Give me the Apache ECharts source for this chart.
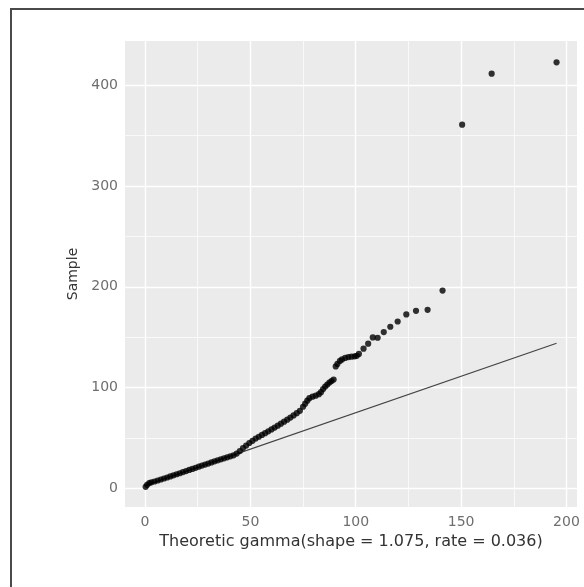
<!DOCTYPE html>
<html>
<head>
<meta charset="utf-8">
<script src="https://cdn.jsdelivr.net/npm/echarts@6/dist/echarts.min.js"></script>
<style>
  html, body { margin: 0; padding: 0; background: #fff; }
  #chart { width: 584px; height: 587px; }
</style>
</head>
<body>
<div id="chart"></div>
<script>
// sample vs theoretic gamma quantiles
const qqX = [0.3, 1, 2, 3, 4.5, 6, 7.5, 9, 10.5, 12, 13.5, 15, 16.5, 18, 19.5, 21, 22.5, 24, 25.5, 27,
  28.5, 30, 31.5, 33, 34.5, 36, 37.5, 39, 40.5, 42, 43.5, 45, 46.5, 48, 49.5, 51, 52.5, 54, 55.5, 57,
  58.5, 60, 61.5, 63, 64.5, 66, 67.5, 69, 70.5, 72, 73.5, 75, 76, 77, 78, 79.5, 81, 82.5, 83.5, 84.5,
  85.5, 86.5, 87.5, 88.5, 89.5,
  90.5, 91.3, 92.5, 93.5, 95, 96.5, 98, 99.5, 100.5, 101.5, 103.7, 105.9, 108.1, 110.4, 113.3, 116.4,
  119.9, 124, 128.6, 134.1, 141.2, 150.5, 164.5, 195.3]
const qqY = [1.5, 3.5, 5.2, 6, 6.8, 7.8, 8.8, 9.8, 10.8, 11.8, 12.9, 14, 15, 16.2, 17.2, 18.3, 19.3, 20.4, 21.5, 22.6,
  23.6, 24.6, 25.7, 26.8, 27.8, 28.8, 29.8, 30.8, 31.8, 32.8, 34.5, 37, 40, 42.5, 45, 47.2, 49.5, 51.2, 53, 54.8,
  56.6, 58.5, 60.3, 62.2, 64.2, 66.2, 68.2, 70.3, 72.4, 74.6, 77, 81, 84, 87, 89.5, 91, 92, 93.5, 95.5, 98.5,
  101, 103, 105, 106.5, 108,
  121, 123.5, 126.5, 128, 129.5, 130.3, 130.7, 131, 131.5, 133.4, 138.6, 143.6, 149.8, 149.5, 155.1, 160.4,
  165.6, 172.6, 176.2, 177.2, 196.3, 361, 411.6, 422.8]

// reference line end points
const lineX = [0.3, 195.3]
const lineY = [3, 144]

const xTicks = [0, 50, 100, 150, 200]
const yTicks = [0, 100, 200, 300, 400]
const xMinor = [25, 75, 125, 175]
const yMinor = [50, 150, 250, 350]

const chart = echarts.init(document.getElementById('chart'), null, { renderer: 'canvas' })

const tickText = { color: '#6e6e6e', fontSize: 14, fontFamily: 'DejaVu Sans' }
const gridLine = (key, v, w) => ({ [key]: v, lineStyle: { color: '#ffffff', width: w, type: 'solid' } })

chart.setOption({
  animation: false,
  backgroundColor: '#ffffff',
  graphic: [{
    type: 'rect',
    shape: { x: 11, y: 9, width: 640, height: 640 },
    style: { fill: 'none', stroke: '#4a4a4a', lineWidth: 2 },
    silent: true,
  }],
  grid: {
    left: 125, right: 7, top: 41, bottom: 80,
    show: true, backgroundColor: '#ebebeb', borderWidth: 0,
  },
  xAxis: {
    type: 'value',
    min: -9.5, max: 205,
    name: 'Theoretic gamma(shape = 1.075, rate = 0.036)',
    nameLocation: 'middle',
    nameGap: 22,
    nameTextStyle: { color: '#333333', fontSize: 16, fontFamily: 'DejaVu Sans' },
    axisLine: { show: false },
    axisTick: { show: true, customValues: xTicks, length: 4, lineStyle: { color: '#8a8a8a' } },
    axisLabel: { ...tickText, customValues: xTicks, margin: 8 },
    splitLine: { show: false },
  },
  yAxis: {
    type: 'value',
    min: -18.5, max: 444,
    name: 'Sample',
    nameLocation: 'middle',
    nameGap: 44,
    nameRotate: 90,
    nameTextStyle: { color: '#333333', fontSize: 14, fontFamily: 'DejaVu Sans' },
    axisLine: { show: false },
    axisTick: { show: true, customValues: yTicks, length: 4, lineStyle: { color: '#8a8a8a' } },
    axisLabel: { ...tickText, customValues: yTicks, margin: 7 },
    splitLine: { show: false },
  },
  series: [
    {
      type: 'scatter',
      data: qqX.map((x, i) => [x, qqY[i]]),
      symbolSize: 6.2,
      itemStyle: { color: '#000000' },
      z: 3,
      silent: true,
      markLine: {
        z: 1,
        silent: true,
        symbol: 'none',
        label: { show: false },
        animation: false,
        data: [
          ...xMinor.map(v => gridLine('xAxis', v, 0.7)),
          ...yMinor.map(v => gridLine('yAxis', v, 0.7)),
          ...xTicks.map(v => gridLine('xAxis', v, 1.4)),
          ...yTicks.map(v => gridLine('yAxis', v, 1.4)),
        ],
      },
    },
    {
      type: 'line',
      data: lineX.map((x, i) => [x, lineY[i]]),
      showSymbol: false,
      lineStyle: { color: '#444444', width: 1.2 },
      z: 2,
      silent: true,
    },
  ],
})
</script>
</body>
</html>
